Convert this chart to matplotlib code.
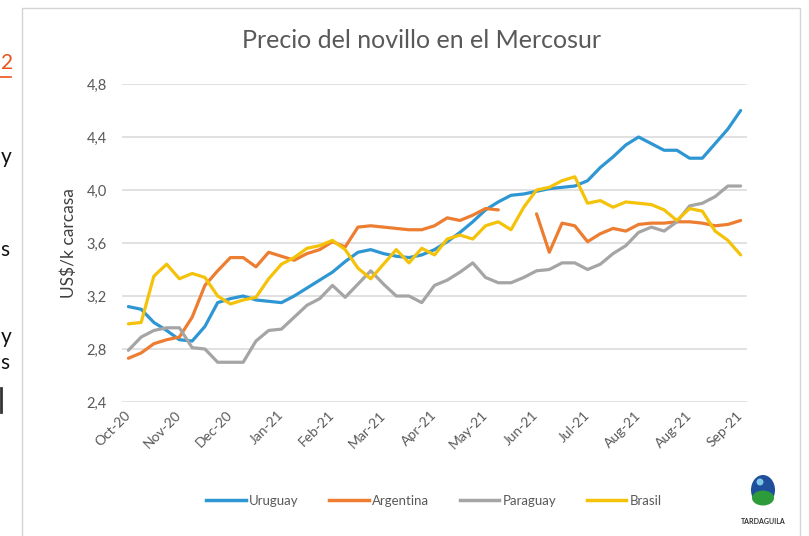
import numpy as np
import matplotlib
matplotlib.use("Agg")
import matplotlib.pyplot as plt
from matplotlib.patches import Rectangle, Ellipse
from matplotlib.lines import Line2D

plt.rcParams['font.family'] = ['Lato', 'DejaVu Sans']

title = "Precio del novillo en el Mercosur"
ylabel = "US$/k carcasa"
month_labels = ["Oct-20", "Nov-20", "Dec-20", "Jan-21", "Feb-21", "Mar-21", "Apr-21",
                "May-21", "Jun-21", "Jul-21", "Aug-21", "Aug-21", "Sep-21"]
yticks = [2.4, 2.8, 3.2, 3.6, 4.0, 4.4, 4.8]

uruguay = [3.12, 3.10, 3.00, 2.94, 2.87, 2.86, 2.97, 3.15, 3.18, 3.20,
           3.17, 3.16, 3.15, 3.20, 3.26, 3.32, 3.38, 3.46, 3.53, 3.55,
           3.52, 3.50, 3.49, 3.51, 3.55, 3.61, 3.68, 3.76, 3.85, 3.91,
           3.96, 3.97, 3.99, 4.01, 4.02, 4.03, 4.07, 4.17, 4.25, 4.34,
           4.40, 4.35, 4.30, 4.30, 4.24, 4.24, 4.35, 4.46, 4.60]
argentina = [2.73, 2.77, 2.84, 2.87, 2.89, 3.04, 3.28, 3.39, 3.49, 3.49,
             3.42, 3.53, 3.50, 3.47, 3.52, 3.55, 3.61, 3.57, 3.72, 3.73,
             3.72, 3.71, 3.70, 3.70, 3.73, 3.79, 3.77, 3.81, 3.86, 3.85,
             np.nan, np.nan, 3.82, 3.53, 3.75, 3.73, 3.61, 3.67, 3.71, 3.69,
             3.74, 3.75, 3.75, 3.76, 3.76, 3.75, 3.73, 3.74, 3.77]
paraguay = [2.79, 2.89, 2.94, 2.96, 2.96, 2.81, 2.80, 2.70, 2.70, 2.70,
            2.86, 2.94, 2.95, 3.04, 3.13, 3.18, 3.28, 3.19, 3.29, 3.39,
            3.29, 3.20, 3.20, 3.15, 3.28, 3.32, 3.38, 3.45, 3.34, 3.30,
            3.30, 3.34, 3.39, 3.40, 3.45, 3.45, 3.40, 3.44, 3.52, 3.58,
            3.68, 3.72, 3.69, 3.76, 3.88, 3.90, 3.95, 4.03, 4.03]
brasil = [2.99, 3.00, 3.35, 3.44, 3.33, 3.37, 3.34, 3.20, 3.14, 3.17,
          3.19, 3.33, 3.44, 3.49, 3.56, 3.58, 3.62, 3.55, 3.41, 3.33,
          3.44, 3.55, 3.45, 3.56, 3.51, 3.63, 3.66, 3.63, 3.73, 3.76,
          3.70, 3.87, 4.00, 4.02, 4.07, 4.10, 3.90, 3.92, 3.87, 3.91,
          3.90, 3.89, 3.85, 3.77, 3.86, 3.84, 3.69, 3.62, 3.51]

series = [("Uruguay", uruguay, "#2E97D3"),
          ("Argentina", argentina, "#ED7D31"),
          ("Paraguay", paraguay, "#A5A5A5"),
          ("Brasil", brasil, "#F5C20A")]

W, H = 809, 536
fig = plt.figure(figsize=(W / 100, H / 100), dpi=100)
fig.patch.set_facecolor("white")

# chart frame
fig.add_artist(Rectangle((22 / W, -0.01), (800 - 22) / W, (H - 8) / H + 0.01,
                         transform=fig.transFigure, fill=False,
                         edgecolor="#D4D4D4", lw=1.0))

# text fragments from the surrounding page (left edge)
fig.text(0.5 / W, 1 - 63 / H, "2", color="#E8541C", fontsize=15, ha="left", va="center")
fig.add_artist(Line2D([0, 11 / W], [1 - 77 / H, 1 - 77 / H], color="#E8541C", lw=1.2,
                      transform=fig.transFigure))
for yy, ch in [(157, "y"), (250, "s"), (337, "y"), (363, "s")]:
    fig.text(0.5 / W, 1 - yy / H, ch, color="#111111", fontsize=15, ha="left", va="center")
fig.add_artist(Line2D([1 / W, 1 / W], [1 - 388 / H, 1 - 412 / H], color="#333333", lw=2,
                      transform=fig.transFigure))

ax_l, ax_r, ax_t, ax_b = 122, 747, 84, 402
ax = fig.add_axes([ax_l / W, 1 - ax_b / H, (ax_r - ax_l) / W, (ax_b - ax_t) / H])
ax.set_facecolor("white")

n = len(uruguay)
x = np.arange(n)
for name, vals, col in series:
    ax.plot(x, vals, color=col, lw=2.3, label=name, solid_joinstyle="round",
            solid_capstyle="round", zorder=3)

ax.set_xlim(-0.5, n - 0.5)
ax.set_ylim(2.4, 4.8)
ax.set_yticks(yticks)
ax.set_yticklabels([f"{v:.1f}".replace(".", ",") for v in yticks])
ax.grid(axis="y", color="#D9D9D9", lw=1.1, zorder=0)
ax.grid(axis="x", visible=False)
for s in ax.spines.values():
    s.set_visible(False)
ax.tick_params(axis="y", length=0, pad=11, labelsize=10.5, labelcolor="#595959")
ax.set_xticks(np.arange(0, n, 4))
ax.set_xticklabels(month_labels, rotation=45, ha="right", va="center",
                   rotation_mode="anchor")
ax.tick_params(axis="x", length=0, pad=8, labelsize=10, labelcolor="#595959")

ax.set_ylabel(ylabel, fontsize=12.5, color="#404040")
ax.yaxis.set_label_coords(-0.072, 0.5)

fig.text(421 / W, 1 - 40 / H, title, fontsize=18, color="#595959", ha="center", va="center")

# legend
leg = fig.legend(handles=[Line2D([], [], color=c, lw=2.5) for _, _, c in series],
                 labels=[nm for nm, _, _ in series],
                 loc="center", bbox_to_anchor=(434 / W, 1 - 501 / H), ncol=4,
                 frameon=False, fontsize=9.5, handlelength=3.0, handletextpad=0.25,
                 columnspacing=2.3)
for t in leg.get_texts():
    t.set_color("#595959")

# logo
fig.add_artist(Ellipse((763 / W, 1 - 490 / H), 24 / W, 30 / H, transform=fig.transFigure,
                       facecolor="#1F4E9A", edgecolor="none"))
fig.add_artist(Ellipse((763 / W, 1 - 498 / H), 22 / W, 15 / H, transform=fig.transFigure,
                       facecolor="#2E9B3A", edgecolor="none"))
fig.add_artist(Ellipse((760 / W, 1 - 482 / H), 7 / W, 7 / H, transform=fig.transFigure,
                       facecolor="#7FC6E8", edgecolor="none"))
fig.text(763 / W, 1 - 521 / H, "TARDAGUILA", fontsize=5, fontweight="bold",
         color="#333333", ha="center", va="center")

fig.savefig("out.png", dpi=100, facecolor="white")
